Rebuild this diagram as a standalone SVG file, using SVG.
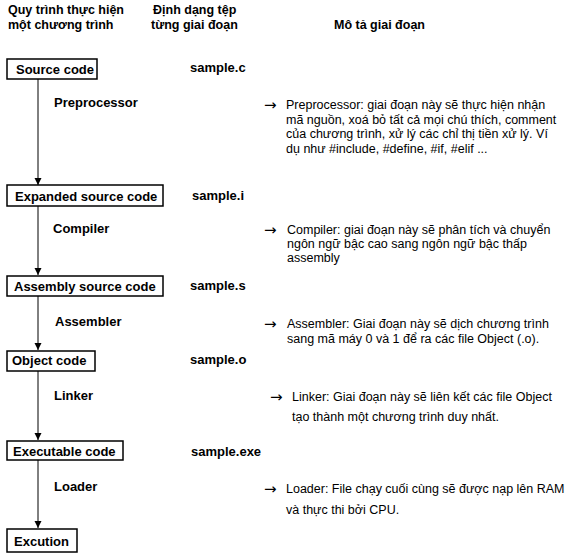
<svg xmlns="http://www.w3.org/2000/svg" width="573" height="556" viewBox="0 0 573 556">
<style>
.h{font-family:"Liberation Sans",Arial,sans-serif;font-size:12.5px;font-weight:bold;fill:#000}
.b{font-family:"Liberation Sans",Arial,sans-serif;font-size:13px;font-weight:bold;fill:#000}
.d{font-family:"Liberation Sans",Arial,sans-serif;font-size:12.5px;fill:#000}
.ar{font-family:"DejaVu Sans",sans-serif;font-size:15px;fill:#000}
.box{fill:#fff;stroke:#000;stroke-width:1.5}
.ln{stroke:#000;stroke-width:1;fill:none}
</style>
<defs>
<marker id="ah" markerWidth="8" markerHeight="8" refX="7" refY="4" orient="auto" markerUnits="userSpaceOnUse">
<path d="M0,0.5 L7,4 L0,7.5 Z" fill="#000"/>
</marker>
</defs>
<rect width="573" height="556" fill="#fff"/>
<g id="headers">
<text class="h" x="8" y="14">Quy trình thực hiện</text>
<text class="h" x="8" y="29">một chương trình</text>
<text class="h" x="153" y="14">Định dạng tệp</text>
<text class="h" x="151" y="29">từng giai đoạn</text>
<text class="h" x="334" y="29">Mô tả giai đoạn</text>
</g>
<g id="connectors">
<line class="ln" x1="38" y1="79" x2="38" y2="185" marker-end="url(#ah)"/>
<line class="ln" x1="38" y1="206" x2="38" y2="275" marker-end="url(#ah)"/>
<line class="ln" x1="38" y1="296" x2="38" y2="350" marker-end="url(#ah)"/>
<line class="ln" x1="38" y1="371" x2="38" y2="440" marker-end="url(#ah)"/>
<line class="ln" x1="38" y1="460" x2="38" y2="528" marker-end="url(#ah)"/>
<text class="b" x="54" y="107">Preprocessor</text>
<text class="b" x="53" y="233">Compiler</text>
<text class="b" x="55" y="326">Assembler</text>
<text class="b" x="54" y="400">Linker</text>
<text class="b" x="54" y="491">Loader</text>
</g>
<g id="n-source">
<rect class="box" x="7" y="59" width="90" height="20"/>
<text class="b" x="16" y="73.5">Source code</text>
</g>
<g id="n-expanded">
<rect class="box" x="7" y="185" width="156" height="21"/>
<text class="b" x="15" y="200.5">Expanded source code</text>
</g>
<g id="n-assembly">
<rect class="box" x="7" y="276" width="156" height="20"/>
<text class="b" x="14" y="290.5">Assembly source code</text>
</g>
<g id="n-object">
<rect class="box" x="7" y="351" width="88" height="20"/>
<text class="b" x="12" y="364.5">Object code</text>
</g>
<g id="n-executable">
<rect class="box" x="7" y="441" width="116" height="19"/>
<text class="b" x="13" y="455.5">Executable code</text>
</g>
<g id="n-excution">
<rect class="box" x="7" y="529" width="70" height="23"/>
<text class="b" x="14" y="546">Excution</text>
</g>
<g id="files">
<text class="b" x="190" y="72">sample.c</text>
<text class="b" x="192" y="200">sample.i</text>
<text class="b" x="190" y="290">sample.s</text>
<text class="b" x="190" y="364">sample.o</text>
<text class="b" x="191" y="456">sample.exe</text>
</g>
<g id="descriptions">
<text class="ar" x="264" y="110">→</text>
<text class="d" x="286" y="109">Preprocessor: giai đoạn này sẽ thực hiện nhận</text>
<text class="d" x="286" y="123.5">mã nguồn, xoá bỏ tất cả mọi chú thích, comment</text>
<text class="d" x="286" y="138">của chương trình, xử lý các chỉ thị tiền xử lý. Ví</text>
<text class="d" x="286" y="152.5">dụ như #include, #define, #if, #elif ...</text>
<text class="ar" x="264" y="235">→</text>
<text class="d" x="287" y="234">Compiler: giai đoạn này sẽ phân tích và chuyển</text>
<text class="d" x="287" y="248">ngôn ngữ bậc cao sang ngôn ngữ bậc thấp</text>
<text class="d" x="287" y="262">assembly</text>
<text class="ar" x="264" y="329">→</text>
<text class="d" x="287" y="328">Assembler: Giai đoạn này sẽ dịch chương trình</text>
<text class="d" x="287" y="343">sang mã máy 0 và 1 để ra các file Object (.o).</text>
<text class="ar" x="270" y="402">→</text>
<text class="d" x="292" y="401">Linker: Giai đoạn này sẽ liên kết các file Object</text>
<text class="d" x="292" y="421">tạo thành một chương trình duy nhất.</text>
<text class="ar" x="264" y="494">→</text>
<text class="d" x="286" y="493">Loader: File chạy cuối cùng sẽ được nạp lên RAM</text>
<text class="d" x="286" y="514">và thực thi bởi CPU.</text>
</g>
</svg>
